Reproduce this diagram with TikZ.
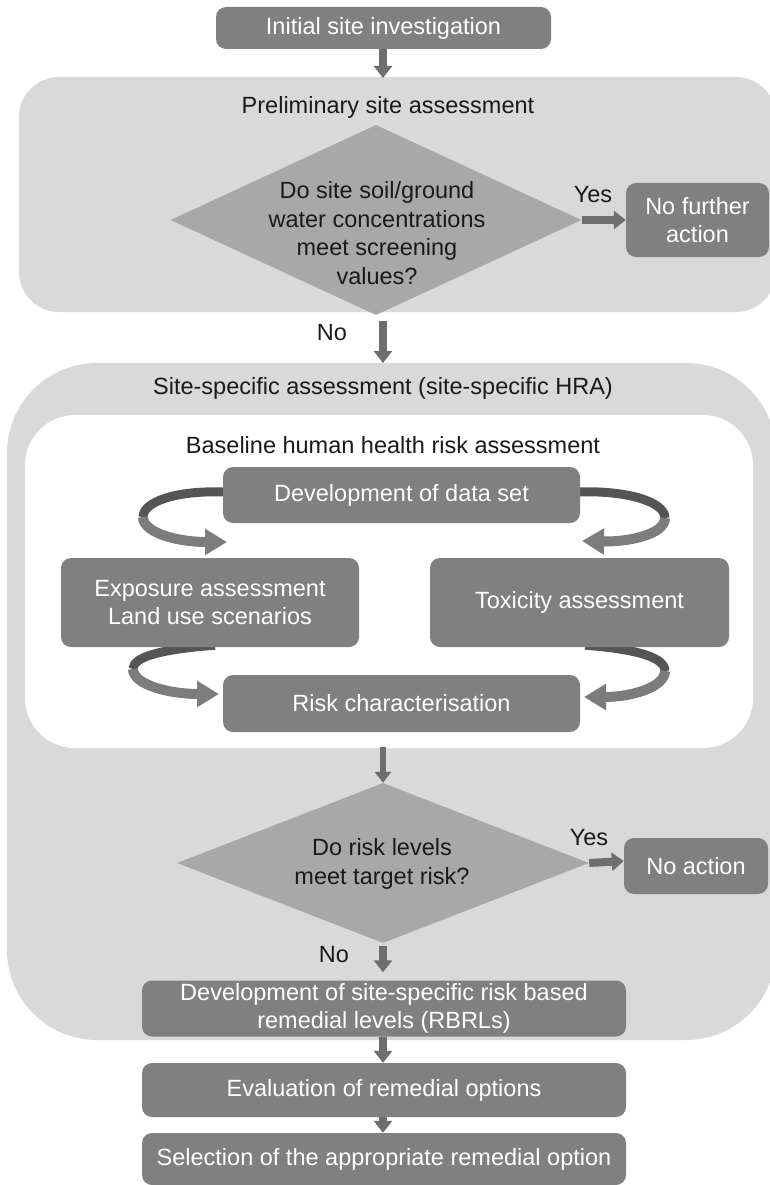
\documentclass[tikz,border=0pt]{standalone}
\usepackage{fontspec}
\setmainfont{Liberation Sans}
\usetikzlibrary{arrows.meta,shapes.geometric}
\definecolor{boxc}{HTML}{808080}
\definecolor{diac}{HTML}{A8A8A8}
\definecolor{panelc}{HTML}{D9D9D9}
\definecolor{arrc}{HTML}{6E6E6E}
\definecolor{curvdark}{HTML}{555555}
\definecolor{curvlight}{HTML}{7C7C7C}
\definecolor{txt}{HTML}{1A1A1A}
\pgfdeclarelayer{bg}
\pgfdeclarelayer{mid}
\pgfsetlayers{bg,mid,main}
\begin{document}
\begin{tikzpicture}[x=1pt,y=-1pt,
  every node/.style={font=\fontsize{23.5}{28.5}\selectfont, text=txt},
  box/.style={fill=boxc, rounded corners=10pt, text=white, align=center, inner sep=0pt},
  dia/.style={diamond, fill=diac, inner sep=0pt},
  lbl/.style={align=center, inner sep=0pt},
  arr/.style={draw=arrc, line width=8pt, -{Triangle[width=18pt,length=12pt]}},
  arrthin/.style={draw=arrc, line width=6pt, -{Triangle[width=16pt,length=11pt]}},
  curvA/.style={draw=curvdark, line width=9pt},
  curvB/.style={draw=curvlight, line width=10pt, -{Triangle[width=25pt,length=22pt]}}
]
\useasboundingbox (0,0) rectangle (770,1185);
\clip (0,0) rectangle (770,1185);

% panels
\begin{pgfonlayer}{bg}
\fill[panelc, rounded corners=40] (19,77) rectangle (776,312);
\fill[panelc, rounded corners=90] (7,363) rectangle (776,1040);
\fill[white, rounded corners=50] (25,415) rectangle (753,748);
\end{pgfonlayer}

% panel labels
\node[lbl] (lprel) at (388,107) {Preliminary site assessment};
\node[lbl] (lsite) at (383,388) {Site-specific assessment (site-specific HRA)};
\node[lbl] (lbase) at (393,445) {Baseline human health risk assessment};

% diamonds
\node[dia, minimum width=411, minimum height=190] (d1) at (376,220) {};
\node[lbl] (d1t) at (377,233) {Do site soil/ground\\water concentrations\\meet screening\\values?};
\node[dia, minimum width=412, minimum height=160] (d2) at (383,863) {};
\node[lbl] (d2t) at (382,864) {Do risk levels\\meet target risk?};

% boxes
\node[box, minimum width=335, minimum height=42] (init) at (383.5,28) {Initial site investigation};
\node[box, minimum width=143, minimum height=74] (nfa) at (697.5,220) {No further\\action};
\node[box, minimum width=357, minimum height=56] (dev) at (401.5,495) {Development of data set};
\node[box, minimum width=298, minimum height=89] (expo) at (210,602.5) {Exposure assessment\\Land use scenarios};
\node[box, minimum width=299, minimum height=89] (tox) at (579.5,602.5) {Toxicity assessment};
\node[box, minimum width=357, minimum height=57] (risk) at (401.5,703.5) {Risk characterisation};
\node[box, minimum width=144, minimum height=56] (noact) at (696,866) {No action};
\node[box, minimum width=484, minimum height=56] (rbrl) at (384,1008.5) {Development of site-specific risk based\\remedial levels (RBRLs)};
\node[box, minimum width=484, minimum height=54] (eval) at (384,1090) {Evaluation of remedial options};
\node[box, minimum width=484, minimum height=52] (sel) at (384,1159) {Selection of the appropriate remedial option};

% curved arrows, on a layer below the boxes they emerge from
\coordinate (lt1) at (143,517);
\coordinate (lt2) at (227,542);
\coordinate (rt1) at (665,518);
\coordinate (rt2) at (582,541);
\coordinate (lb1) at (133,669);
\coordinate (lb2) at (219,694);
\coordinate (rb1) at (665,671);
\coordinate (rb2) at (584,697);
\begin{pgfonlayer}{mid}
\draw[curvA] ([xshift=4pt,yshift=3pt]dev.west) .. controls (175,490) and (143,502) .. (lt1);
\draw[curvB] (lt1) .. controls (143,533) and (178,542) .. (lt2);
\draw[curvA] ([xshift=-4pt,yshift=3pt]dev.east) .. controls (628,490) and (665,502) .. (rt1);
\draw[curvB] (rt1) .. controls (665,534) and (630,542) .. (rt2);
\draw[curvA] ([xshift=5pt,yshift=2pt]expo.south) .. controls (165,649) and (133,656) .. (lb1);
\draw[curvB] (lb1) .. controls (133,685) and (170,694) .. (lb2);
\draw[curvA] ([xshift=5pt,yshift=2pt]tox.south west -| dev.east) .. controls (635,649) and (665,657) .. (rb1);
\draw[curvB] (rb1) .. controls (665,687) and (632,697) .. (rb2);
\end{pgfonlayer}

% free ends of connectors
\coordinate (p1top) at (383,78);
\coordinate (p2top) at (383,363);
\coordinate (wbot) at (383,747);

% straight connectors
\draw[arr] (init.south -| p1top) -- (p1top);
\draw[arr] (d1.east) -- (d1.east -| nfa.west);
\draw[arr] ([yshift=-6pt]d1.south -| p2top) -- (p2top);
\draw[arrthin] (wbot) -- (d2.north);
\draw[arr] (d2.east) -- ([yshift=2pt]d2.east -| noact.west);
\draw[arr] ([yshift=-3pt]d2.south) -- ([yshift=8pt]rbrl.north -| d2.south);
\draw[arr] (rbrl.south -| d2.south) -- (eval.north -| d2.south);
\draw[arr] (eval.south -| d2.south) -- (sel.north -| d2.south);

% yes / no labels
\node[lbl] (y1) at (593,195) {Yes};
\node[lbl] (n1) at (332,333) {No};
\node[lbl] (y2) at (589,838) {Yes};
\node[lbl] (n2) at (334,955) {No};
\end{tikzpicture}
\end{document}
